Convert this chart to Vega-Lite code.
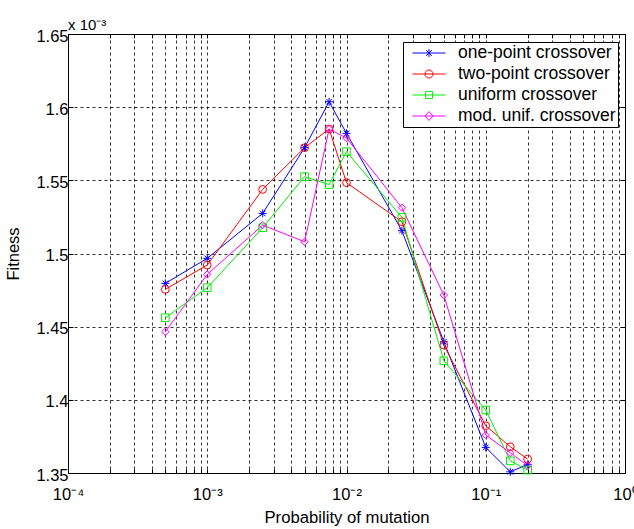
{
  "$schema": "https://vega.github.io/schema/vega-lite/v6.json",
  "width": 557,
  "height": 439,
  "autosize": {"type": "none"},
  "padding": {"left": 68, "top": 34, "right": 9, "bottom": 56},
  "background": "white",
  "config": {
    "font": "Liberation Sans",
    "view": {"stroke": "black", "strokeWidth": 1},
    "axis": {"labelFont": "Liberation Sans", "titleFont": "Liberation Sans", "labelColor": "black", "titleColor": "black", "titleFontWeight": "normal"}
  },
  "title": {"text": "x 10⁻³", "anchor": "start", "frame": "group", "fontSize": 15, "fontWeight": "normal", "font": "Liberation Sans", "color": "black", "baseline": "alphabetic", "offset": 2, "dy": 19},
  "data": {"values": [
    {"p": 0.0005, "series": "one-point crossover", "fitness": 1.4796},
    {"p": 0.001, "series": "one-point crossover", "fitness": 1.4967},
    {"p": 0.0025, "series": "one-point crossover", "fitness": 1.5274},
    {"p": 0.005, "series": "one-point crossover", "fitness": 1.5723},
    {"p": 0.0075, "series": "one-point crossover", "fitness": 1.6037},
    {"p": 0.01, "series": "one-point crossover", "fitness": 1.5821},
    {"p": 0.025, "series": "one-point crossover", "fitness": 1.5156},
    {"p": 0.05, "series": "one-point crossover", "fitness": 1.4397},
    {"p": 0.1, "series": "one-point crossover", "fitness": 1.3675},
    {"p": 0.15, "series": "one-point crossover", "fitness": 1.3508},
    {"p": 0.2, "series": "one-point crossover", "fitness": 1.3559},
    {"p": 0.0005, "series": "two-point crossover", "fitness": 1.4755},
    {"p": 0.001, "series": "two-point crossover", "fitness": 1.4921},
    {"p": 0.0025, "series": "two-point crossover", "fitness": 1.5438},
    {"p": 0.005, "series": "two-point crossover", "fitness": 1.5723},
    {"p": 0.0075, "series": "two-point crossover", "fitness": 1.5851},
    {"p": 0.01, "series": "two-point crossover", "fitness": 1.5484},
    {"p": 0.025, "series": "two-point crossover", "fitness": 1.5217},
    {"p": 0.05, "series": "two-point crossover", "fitness": 1.4374},
    {"p": 0.1, "series": "two-point crossover", "fitness": 1.3823},
    {"p": 0.15, "series": "two-point crossover", "fitness": 1.3679},
    {"p": 0.2, "series": "two-point crossover", "fitness": 1.3595},
    {"p": 0.0005, "series": "uniform crossover", "fitness": 1.4561},
    {"p": 0.001, "series": "uniform crossover", "fitness": 1.4766},
    {"p": 0.0025, "series": "uniform crossover", "fitness": 1.5176},
    {"p": 0.005, "series": "uniform crossover", "fitness": 1.5525},
    {"p": 0.0075, "series": "uniform crossover", "fitness": 1.5471},
    {"p": 0.01, "series": "uniform crossover", "fitness": 1.5696},
    {"p": 0.025, "series": "uniform crossover", "fitness": 1.5247},
    {"p": 0.05, "series": "uniform crossover", "fitness": 1.4267},
    {"p": 0.1, "series": "uniform crossover", "fitness": 1.393},
    {"p": 0.15, "series": "uniform crossover", "fitness": 1.3583},
    {"p": 0.2, "series": "uniform crossover", "fitness": 1.352},
    {"p": 0.0005, "series": "mod. unif. crossover", "fitness": 1.4465},
    {"p": 0.001, "series": "mod. unif. crossover", "fitness": 1.4857},
    {"p": 0.0025, "series": "mod. unif. crossover", "fitness": 1.5194},
    {"p": 0.005, "series": "mod. unif. crossover", "fitness": 1.508},
    {"p": 0.0075, "series": "mod. unif. crossover", "fitness": 1.585},
    {"p": 0.01, "series": "mod. unif. crossover", "fitness": 1.5789},
    {"p": 0.025, "series": "mod. unif. crossover", "fitness": 1.5313},
    {"p": 0.05, "series": "mod. unif. crossover", "fitness": 1.4716},
    {"p": 0.1, "series": "mod. unif. crossover", "fitness": 1.3759},
    {"p": 0.15, "series": "mod. unif. crossover", "fitness": 1.3638},
    {"p": 0.2, "series": "mod. unif. crossover", "fitness": 1.355}
  ]},
  "resolve": {"scale": {"color": "independent", "shape": "independent"}, "axis": {"x": "independent", "y": "independent"}},
  "layer": [
    {
      "mark": {"type": "line", "strokeWidth": 1},
      "encoding": {
        "x": {"field": "p", "type": "quantitative", "scale": {"type": "log", "domain": [0.0001, 1], "nice": false},
          "axis": {"orient": "bottom", "title": "Probability of mutation", "titleFontSize": 16.7, "titlePadding": 7,
            "values": [0.0001,0.0002,0.0003,0.0004,0.0005,0.0006,0.0007,0.0008,0.0009,0.001,0.002,0.003,0.004,0.005,0.006,0.007,0.008,0.009,0.01,0.02,0.03,0.04,0.05,0.06,0.07,0.08,0.09,0.1,0.2,0.3,0.4,0.5,0.6,0.7,0.8,0.9,1],
            "labelExpr": "abs(log(datum.value)/LN10 - round(log(datum.value)/LN10)) < 0.000001 ? '10' + ['⁻⁴','⁻³','⁻²','⁻¹','⁰'][round(log(datum.value)/LN10)+4] : ''",
            "labelFontSize": 16.5, "labelPadding": 17, "labelFlush": false, "labelOverlap": false,
            "grid": true, "gridColor": "black", "gridOpacity": 0.8, "gridDash": [3, 3], "gridWidth": 1,
            "ticks": true, "tickSize": -4, "tickColor": "black", "domain": true, "domainColor": "black"}},
        "y": {"field": "fitness", "type": "quantitative", "scale": {"domain": [1.35, 1.65], "nice": false, "zero": false},
          "axis": {"orient": "left", "title": "Fitness", "titleFontSize": 16.5, "titlePadding": 14,
            "values": [1.35, 1.4, 1.45, 1.5, 1.55, 1.6, 1.65], "labelExpr": "format(datum.value, '.2~f')",
            "labelFontSize": 16.5, "labelPadding": 5, "labelOffset": 2, "labelFlush": false, "labelOverlap": false,
            "grid": true, "gridColor": "black", "gridOpacity": 0.8, "gridDash": [3, 3], "gridWidth": 1,
            "ticks": true, "tickSize": -5, "tickColor": "black", "domain": true, "domainColor": "black"}},
        "color": {"field": "series", "type": "nominal", "legend": null,
          "scale": {"domain": ["one-point crossover", "two-point crossover", "uniform crossover", "mod. unif. crossover"], "range": ["#0000ff", "#ff0000", "#00ee00", "#ff00ff"]}},
        "detail": {"field": "series"}
      }
    },
    {
      "mark": {"type": "point", "filled": false, "strokeWidth": 1, "opacity": 1},
      "encoding": {
        "x": {"field": "p", "type": "quantitative", "scale": {"type": "log", "domain": [0.0001, 1], "nice": false},
          "axis": {"orient": "top", "title": null, "labels": false, "grid": false, "domain": false, "ticks": true, "tickSize": -4, "tickColor": "black",
            "values": [0.0001,0.0002,0.0003,0.0004,0.0005,0.0006,0.0007,0.0008,0.0009,0.001,0.002,0.003,0.004,0.005,0.006,0.007,0.008,0.009,0.01,0.02,0.03,0.04,0.05,0.06,0.07,0.08,0.09,0.1,0.2,0.3,0.4,0.5,0.6,0.7,0.8,0.9,1]}},
        "y": {"field": "fitness", "type": "quantitative", "scale": {"domain": [1.35, 1.65], "nice": false, "zero": false},
          "axis": {"orient": "right", "title": null, "labels": false, "grid": false, "domain": false, "ticks": true, "tickSize": -5, "tickColor": "black",
            "values": [1.35, 1.4, 1.45, 1.5, 1.55, 1.6, 1.65]}},
        "color": {"field": "series", "type": "nominal", "legend": null,
          "scale": {"domain": ["one-point crossover", "two-point crossover", "uniform crossover", "mod. unif. crossover"], "range": ["#0000ff", "#ff0000", "#00ee00", "#ff00ff"]}},
        "shape": {"field": "series", "type": "nominal", "legend": null,
          "scale": {"domain": ["one-point crossover", "two-point crossover", "uniform crossover", "mod. unif. crossover"],
            "range": ["M0,-1L0,1M-1,0L1,0M-0.7,-0.7L0.7,0.7M-0.7,0.7L0.7,-0.7", "circle", "square", "diamond"]}},
        "size": {"field": "series", "type": "nominal", "legend": null,
          "scale": {"domain": ["one-point crossover", "two-point crossover", "uniform crossover", "mod. unif. crossover"], "range": [64, 55, 50, 70]}}
      }
    },
    {
      "transform": [{"filter": "datum.p < 0"}],
      "mark": {"type": "point", "filled": false, "strokeWidth": 1, "opacity": 1},
      "encoding": {
        "x": {"field": "p", "type": "quantitative", "scale": {"type": "log", "domain": [0.0001, 1], "nice": false}, "axis": null},
        "y": {"field": "fitness", "type": "quantitative", "scale": {"domain": [1.35, 1.65], "nice": false, "zero": false}, "axis": null},
        "color": {"field": "series", "type": "nominal",
          "scale": {"domain": ["one-point crossover", "two-point crossover", "uniform crossover", "mod. unif. crossover"], "range": ["#0000ff", "#ff0000", "#00ee00", "#ff00ff"]},
          "legend": {"title": null, "orient": "none", "legendX": 335, "legendY": 8, "padding": 2, "symbolOffset": 15, "labelOffset": 20, "labelFontSize": 17.5, "labelFont": "Liberation Sans", "labelColor": "black", "symbolSize": 289, "symbolStrokeWidth": 1, "rowPadding": 3, "strokeColor": "black", "fillColor": "white", "labelLimit": 300}},
        "shape": {"field": "series", "type": "nominal",
          "scale": {"domain": ["one-point crossover", "two-point crossover", "uniform crossover", "mod. unif. crossover"],
            "range": [
              "M-1.94,0L1.94,0M0,-0.47L0,0.47M-0.33,-0.33L0.33,0.33M-0.33,0.33L0.33,-0.33",
              "M-1.94,0L1.94,0M-0.47,0A0.47,0.47 0 1,1 0.47,0A0.47,0.47 0 1,1 -0.47,0Z",
              "M-1.94,0L1.94,0M-0.42,-0.42L0.42,-0.42L0.42,0.42L-0.42,0.42Z",
              "M-1.94,0L1.94,0M0,-0.52L0.47,0L0,0.52L-0.47,0Z"]},
          "legend": {"title": null, "orient": "none", "legendX": 335, "legendY": 8, "padding": 2, "symbolOffset": 15, "labelOffset": 20, "labelFontSize": 17.5, "labelFont": "Liberation Sans", "labelColor": "black", "symbolSize": 289, "symbolStrokeWidth": 1, "rowPadding": 3, "strokeColor": "black", "fillColor": "white", "labelLimit": 300}}
      }
    }
  ]
}
